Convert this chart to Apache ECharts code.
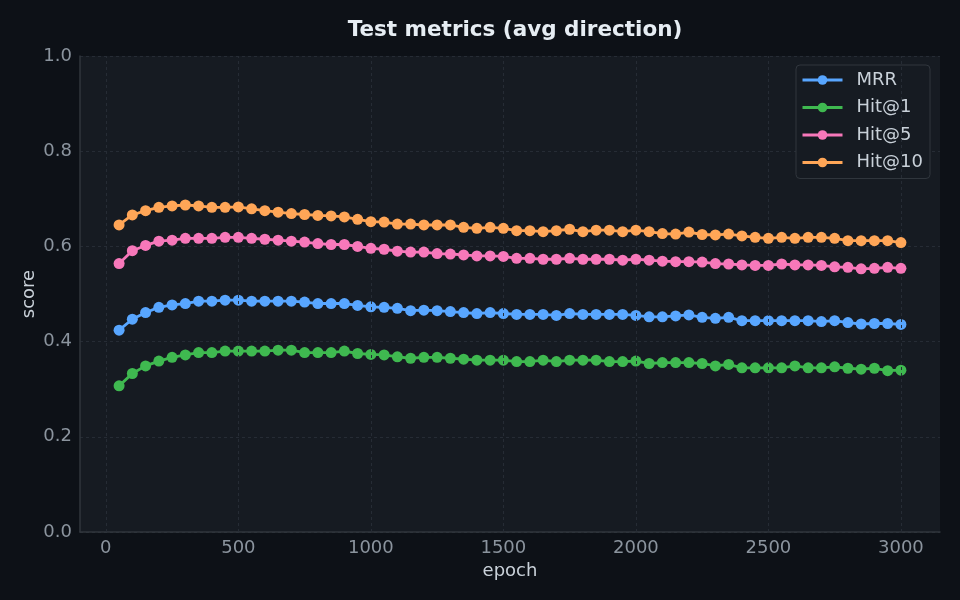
<!DOCTYPE html>
<html>
<head>
<meta charset="utf-8">
<script src="https://cdn.jsdelivr.net/npm/echarts@6/dist/echarts.min.js"></script>
<style>
html,body{margin:0;padding:0;background:#0d1117;}
#c{width:960px;height:600px;}
</style>
</head>
<body>
<div id="c"></div>
<script>
const epochs = [50,100,150,200,250,300,350,400,450,500,550,600,650,700,750,800,850,900,950,1000,1050,1100,1150,1200,1250,1300,1350,1400,1450,1500,1550,1600,1650,1700,1750,1800,1850,1900,1950,2000,2050,2100,2150,2200,2250,2300,2350,2400,2450,2500,2550,2600,2650,2700,2750,2800,2850,2900,2950,3000];

const mrr = [0.424,0.447,0.461,0.472,0.477,0.480,0.485,0.485,0.487,0.487,0.485,0.485,0.485,0.485,0.483,0.480,0.480,0.480,0.476,0.473,0.472,0.470,0.465,0.466,0.465,0.463,0.461,0.459,0.461,0.459,
0.457,0.457,0.457,0.455,0.459,0.457,0.457,0.457,0.457,0.455,0.452,0.452,0.454,0.456,0.451,0.449,0.451,0.444,0.444,0.444,0.444,0.444,0.444,0.442,0.444,0.440,0.437,0.438,0.438,0.436];

const hit1 = [0.307,0.333,0.349,0.359,0.367,0.372,0.377,0.377,0.380,0.380,0.380,0.380,0.382,0.382,0.377,0.377,0.377,0.380,0.375,0.373,0.372,0.368,0.365,0.367,0.367,0.365,0.363,0.361,0.361,0.361,
0.358,0.358,0.361,0.358,0.361,0.361,0.361,0.358,0.358,0.359,0.354,0.356,0.356,0.356,0.354,0.349,0.352,0.345,0.345,0.345,0.345,0.349,0.345,0.345,0.347,0.344,0.342,0.344,0.339,0.340];

const hit5 = [0.564,0.591,0.602,0.611,0.613,0.617,0.617,0.617,0.619,0.619,0.617,0.615,0.613,0.611,0.609,0.606,0.604,0.604,0.600,0.596,0.594,0.590,0.588,0.588,0.585,0.584,0.582,0.580,0.580,0.579,
0.575,0.575,0.573,0.573,0.575,0.573,0.573,0.573,0.571,0.573,0.571,0.569,0.568,0.568,0.567,0.564,0.563,0.561,0.560,0.560,0.563,0.561,0.561,0.560,0.557,0.556,0.553,0.554,0.556,0.554];

const hit10 = [0.645,0.666,0.675,0.682,0.685,0.687,0.685,0.682,0.682,0.683,0.679,0.675,0.672,0.669,0.667,0.665,0.664,0.662,0.657,0.652,0.651,0.647,0.647,0.645,0.645,0.645,0.640,0.638,0.640,0.638,
0.633,0.633,0.631,0.633,0.636,0.631,0.634,0.634,0.631,0.634,0.631,0.627,0.626,0.630,0.625,0.624,0.626,0.622,0.619,0.617,0.619,0.617,0.619,0.619,0.617,0.612,0.612,0.612,0.612,0.608];

const xTicks = [0,500,1000,1500,2000,2500,3000];
const yTicks = [0,0.2,0.4,0.6,0.8,1.0];
const seriesNames = ['MRR','Hit@1','Hit@5','Hit@10'];
const seriesData = [mrr, hit1, hit5, hit10];
const colors = ['#58a6ff','#3fb950','#f778ba','#ffa657'];

const FONT = 'DejaVu Sans';
const chart = echarts.init(document.getElementById('c'), null, {renderer:'canvas'});

const series = seriesNames.map((name, i) => {
  const s = {
    name: name,
    type: 'line',
    data: epochs.map((e, j) => [e, seriesData[i][j]]),
    symbol: 'circle',
    symbolSize: 11,
    showSymbol: true,
    color: colors[i],
    lineStyle: {width: 2.8, color: colors[i]},
    itemStyle: {color: colors[i]},
    z: 3 + i,
    animation: false
  };
  if (i === 0) {
    s.markLine = {
      silent: true,
      symbol: ['none','none'],
      label: {show: false},
      animation: false,
      lineStyle: {color: '#262c35', type: [3,3], width: 1},
      emphasis: {disabled: true},
      data: xTicks.map(v => ({xAxis: v}))
    };
  }
  return s;
});

chart.setOption({
  backgroundColor: '#0d1117',
  animation: false,
  title: {
    text: 'Test metrics (avg direction)',
    left: 510, top: 14, textAlign: 'center',
    textStyle: {color: '#e6edf3', fontFamily: FONT, fontWeight: 'bold', fontSize: 21.5}
  },
  grid: {left: 80, right: 20, top: 56, bottom: 68, show: true, backgroundColor: '#161b22', borderWidth: 0},
  legend: {
    orient: 'vertical', right: 30, top: 65,
    padding: [6, 7, 7, 5],
    itemGap: 9.5,
    itemWidth: 40, itemHeight: 12,
    backgroundColor: '#161b22',
    borderColor: '#30363d', borderWidth: 1, borderRadius: 4,
    lineStyle: {width: 3},
    textStyle: {color: '#c9d1d9', fontFamily: FONT, fontSize: 18, padding: [0, 0, 0, 9]},
    data: seriesNames
  },
  xAxis: {
    type: 'value', min: -97.5, max: 3147.5,
    name: 'epoch', nameLocation: 'middle', nameGap: 29,
    nameTextStyle: {color: '#c9d1d9', fontFamily: FONT, fontSize: 18, verticalAlign: 'top'},
    axisLine: {show: true, onZero: false, lineStyle: {color: '#30363d', width: 1.5}},
    axisTick: {show: false, customValues: xTicks},
    axisLabel: {color: '#8b949e', fontFamily: FONT, fontSize: 18, margin: 7, customValues: xTicks, formatter: v => String(v)},
    splitLine: {show: false}
  },
  yAxis: {
    type: 'value', min: 0, max: 1, interval: 0.2,
    name: 'score', nameLocation: 'middle', nameGap: 42, nameMoveOverlap: false,
    nameTextStyle: {color: '#c9d1d9', fontFamily: FONT, fontSize: 18},
    axisLine: {show: true, onZero: false, lineStyle: {color: '#30363d', width: 1.5}},
    axisTick: {show: false},
    axisLabel: {color: '#8b949e', fontFamily: FONT, fontSize: 18, margin: 8, formatter: v => v.toFixed(1)},
    splitLine: {show: true, lineStyle: {color: '#262c35', type: [3,3], width: 1}}
  },
  series: series
});
</script>
</body>
</html>
